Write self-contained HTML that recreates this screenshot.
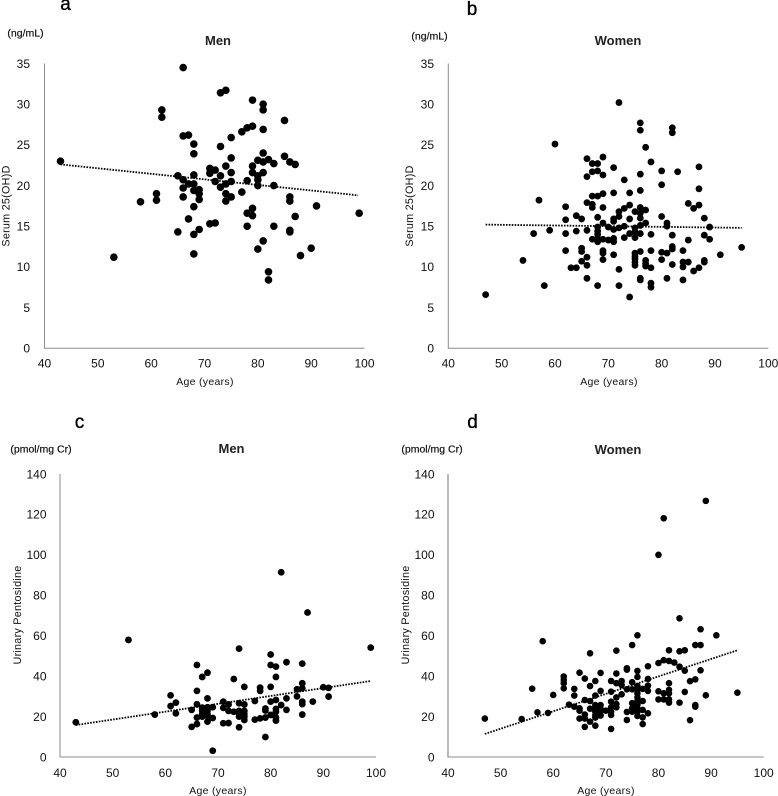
<!DOCTYPE html>
<html lang="en">
<head>
<meta charset="utf-8">
<title>Serum 25(OH)D and urinary pentosidine by age</title>
<style>
html,body{margin:0;padding:0;background:#fff;width:778px;height:796px;overflow:hidden}
svg{display:block;font-family:"Liberation Sans","Noto Sans CJK JP",sans-serif;fill:#111}
</style>
</head>
<body>
<svg id="figure" width="778" height="796" viewBox="0 0 778 796" xmlns="http://www.w3.org/2000/svg"></svg>
<script>
var xTicks = [40, 50, 60, 70, 80, 90, 100];
var vitdTicks = [0, 5, 10, 15, 20, 25, 30, 35];
var pentoTicks = [0, 20, 40, 60, 80, 100, 120, 140];

var agesA = [43,66,73,74,62,62,79,81,81,85,81,79,78,77,75,66,67,68,68,73,81,80,81,82,83,85,86,87,79,74,75,71,72,71,75,79,81,73,65,68,80,80,78,72,75,80,83,74,66,67,68,73,66,68,69,77,61,74,75,74,61,58,66,69,69,86,86,91,68,79,78,79,87,99,67,71,72,78,83,65,69,68,86,86,81,80,90,68,88,53,82,82];
var valuesA = [23.0,34.5,31.4,31.7,29.3,28.4,30.5,30.0,29.3,28.0,26.9,27.3,27.1,26.6,25.9,26.1,26.2,25.1,23.9,24.8,24.0,23.1,22.9,23.2,22.7,23.6,22.9,22.6,22.4,22.4,23.4,22.1,21.9,21.5,21.6,21.6,21.6,21.2,21.2,21.3,21.2,20.7,20.6,20.5,20.5,20.0,20.0,20.2,20.7,20.2,20.2,19.8,19.7,19.4,19.5,19.2,19.0,19.0,18.6,18.1,18.2,18.0,18.6,18.3,19.0,18.6,18.1,17.5,17.4,17.2,16.6,16.3,16.2,16.6,15.9,15.3,15.4,15.0,15.0,14.3,14.6,14.0,14.5,14.3,13.2,12.2,12.3,11.6,11.4,11.2,9.4,8.4];
var trendAgesA = [43, 98.8];
var trendValuesA = [22.6, 18.8];

var agesB = [72,76,76,82,82,60,77,78,69,66,67,68,71,87,80,83,67,68,69,76,66,73,80,87,76,71,74,69,67,68,57,62,66,67,67,69,74,73,72,76,77,75,76,85,87,86,64,65,62,68,72,71,71,74,80,88,76,77,81,69,76,73,70,72,71,75,81,89,68,68,66,59,64,56,62,68,74,75,76,78,82,88,67,68,69,68,70,71,71,73,75,85,89,62,65,65,69,69,71,82,82,78,76,75,75,80,81,84,91,95,66,54,69,65,75,75,75,80,77,77,77,66,82,84,84,85,88,88,87,63,64,78,72,86,66,76,76,81,84,78,78,58,68,72,74,47];
var valuesB = [30.2,27.7,26.8,27.1,26.5,25.1,24.7,22.9,23.5,23.3,22.7,22.7,22.2,22.3,21.8,21.7,21.7,21.8,21.3,21.4,21.1,20.7,20.1,19.6,19.4,19.1,19.1,19.0,18.7,18.7,18.2,17.4,17.9,17.7,17.3,17.3,17.6,17.2,16.8,17.3,17.0,16.8,16.6,17.8,17.6,17.2,16.3,15.9,15.8,16.1,16.2,15.9,15.6,15.9,16.2,16.0,16.0,15.4,15.4,15.4,15.1,15.0,14.9,14.8,14.6,14.8,15.0,14.9,14.9,14.4,14.5,14.5,14.4,14.1,14.1,14.0,14.1,14.3,14.1,14.0,13.9,13.9,13.4,13.5,13.4,13.1,13.3,13.5,13.1,13.6,13.6,13.3,13.4,12.0,12.3,11.9,12.0,11.7,11.5,12.5,12.2,12.0,11.9,11.7,11.3,11.8,11.7,12.0,11.5,12.4,11.2,10.8,10.9,10.7,11.0,10.6,10.2,10.9,10.8,10.4,10.1,10.2,10.3,10.6,10.0,10.6,10.8,10.6,9.9,9.9,9.9,9.9,9.7,9.5,8.6,8.6,8.4,8.6,8.4,8.0,7.5,7.7,7.7,7.7,6.3,6.6];
var trendAgesB = [47, 95];
var trendValuesB = [15.2, 14.8];

var agesC = [82,87,53,99,74,80,83,86,66,80,81,68,67,81,73,86,75,78,78,80,85,86,90,91,66,61,85,91,68,83,81,77,80,71,88,86,86,62,74,66,72,75,82,61,67,68,69,71,65,67,68,79,79,81,83,72,73,74,75,81,62,67,68,74,75,80,58,86,66,67,68,69,74,75,79,78,77,75,81,81,68,66,71,72,43,65,74,79,69];
var valuesC = [91.4,71.5,57.9,54.1,53.6,50.7,46.9,46.2,45.5,45.5,44.7,41.7,39.6,39.6,38.6,36.5,34.7,34.3,32.7,34.7,33.5,34.0,34.5,34.2,32.7,30.5,30.0,29.9,29.0,29.0,28.2,27.7,27.4,27.4,27.4,27.4,26.2,26.9,26.6,26.1,26.0,26.0,25.7,25.2,24.4,24.6,24.6,24.3,23.3,23.0,23.0,24.0,23.0,23.8,23.3,22.8,22.4,22.8,22.8,22.4,21.6,21.3,21.3,21.6,21.3,20.8,21.0,21.0,19.5,20.0,20.3,19.3,20.0,20.0,19.5,19.1,18.5,18.3,19.5,18.0,17.5,16.3,16.7,16.8,17.2,14.9,14.7,9.9,3.1];
var trendAgesC = [43, 99];
var trendValuesC = [15.8, 37.6];

var agesD = [89,81,80,84,88,91,76,58,75,87,88,67,72,82,84,85,80,81,82,83,78,84,85,88,74,74,76,65,69,72,62,76,62,66,78,87,62,68,71,73,75,86,82,72,73,67,78,76,56,62,64,74,75,77,76,69,71,78,80,82,85,95,73,76,81,82,60,64,68,89,72,76,80,81,82,66,67,71,76,77,75,82,84,63,64,68,69,72,87,87,76,65,67,68,69,71,72,75,76,65,68,69,70,71,74,75,76,77,57,59,78,66,68,69,71,76,77,47,54,65,66,68,67,74,86,77,68,66,71];
var valuesD = [126.7,118.1,100,68.6,63.2,60.2,60.2,57.3,55.4,55.4,55.4,51.3,52.6,52.8,52.3,52.8,46.5,47.9,47.5,46.7,44.9,44.7,42.7,42.9,43.9,43.2,42.6,41.7,41.6,41.3,39.8,39.6,38.1,38.8,38.6,38.4,36.5,37.6,37.6,37.6,37.0,37.5,36.5,36.5,35.6,35.1,35.3,35.1,33.8,34.0,33.7,33.5,33.5,33.7,33.5,32.7,32.3,32.7,32.5,33.2,32.2,31.8,31.0,31.5,31.5,31.5,30.7,30.4,30.4,30.5,29.5,29.5,28.5,28.5,28.5,28.2,27.7,27.4,27.7,27.7,26.6,26.9,26.9,25.9,24.9,25.7,25.7,26.2,25.7,24.9,25.9,24.1,23.9,24.1,23.8,24.6,24.6,24.1,24.1,22.9,22.4,22.4,22.9,22.4,22.3,22.4,22.3,23.3,22.1,21.8,21.6,21.0,20.8,20.5,20.8,20.3,19.6,19.0,18.8,19.0,19.0,19.5,17.5,18.3,18.2,16.3,15.5,14.9,13.9];
var trendAgesD = [47, 95];
var trendValuesD = [11.4, 52.8];

var NS = 'http://www.w3.org/2000/svg';
var svg = document.getElementById('figure');

function make(tag, attrs, text) {
  var el = document.createElementNS(NS, tag);
  for (var k in attrs) el.setAttribute(k, attrs[k]);
  if (text !== undefined) el.textContent = text;
  return el;
}

function addLabel(parent, name, text, attrs) {
  var el = make('text', attrs, text);
  
  
  parent.appendChild(el);
  return el;
}

function drawPanel(p) {
  var g = make('g', {});
  
  
  svg.appendChild(g);

  var xMin = xTicks[0], xMax = xTicks[xTicks.length - 1];
  var yMax = p.yTicks[p.yTicks.length - 1];
  function sx(v) { return p.left + (v - xMin) / (xMax - xMin) * (p.right - p.left); }
  function sy(v) { return p.bottom - v / yMax * (p.bottom - p.top); }

  var yAxis = make('line', { x1: p.left, x2: p.left, y1: p.top, y2: p.bottom, stroke: p.yAxisColor, 'stroke-width': p.yAxisWidth });
  
  
  g.appendChild(yAxis);

  var xAxis = make('line', { x1: p.left - 0.5, x2: p.right, y1: p.bottom, y2: p.bottom, stroke: '#8c8c8c', 'stroke-width': 1 });
  
  
  g.appendChild(xAxis);

  p.yTicks.forEach(function (t) {
    addLabel(g, 'y-tick-label', String(t), { x: p.yTickX, y: sy(t) + 4.3, 'text-anchor': 'end', 'font-size': 12, fill: '#111' });
  });
  xTicks.forEach(function (t) {
    addLabel(g, 'x-tick-label', String(t), { x: sx(t), y: p.xTickY, 'text-anchor': 'middle', 'font-size': 12, fill: '#111' });
  });

  p.ages.forEach(function (age, i) {
    var dot = make('circle', { cx: sx(age), cy: sy(p.values[i]), r: p.radius, fill: '#000' });
    
    
    g.appendChild(dot);
  });

  var trend = make('line', {
    x1: sx(p.trendAges[0]), y1: sy(p.trendValues[0]),
    x2: sx(p.trendAges[1]), y2: sy(p.trendValues[1]),
    stroke: '#000', 'stroke-width': 1.8, 'stroke-dasharray': '1.6 1.3'
  });
  
  
  g.appendChild(trend);

  addLabel(g, 'panel-letter', p.letter, { x: p.letterX, y: p.letterY, 'text-anchor': 'middle', 'font-size': 19, fill: '#000', stroke: '#000', 'stroke-width': 0.35 });
  addLabel(g, 'unit-label', p.unit, { x: p.unitX, y: p.unitY, 'text-anchor': 'middle', 'font-size': 10.5, fill: '#111', stroke: '#111', 'stroke-width': 0.2 });
  addLabel(g, 'chart-title', p.title, { x: p.titleX, y: p.titleY, 'text-anchor': 'middle', 'font-size': 13, 'font-weight': 'bold', fill: '#222' });
  addLabel(g, 'x-axis-title', 'Age (years)', { x: p.xTitleX, y: p.xTitleY, 'text-anchor': 'middle', 'font-size': 10.5, 'letter-spacing': '0.3', fill: '#111' });
  addLabel(g, 'y-axis-title', p.yTitle, {
    x: 0, y: 0, 'text-anchor': 'middle', 'font-size': 10.8, 'letter-spacing': '0.25', fill: '#111',
    transform: 'translate(' + p.yTitleX + ',' + p.yTitleY + ') rotate(-90)'
  });
}

drawPanel({
  letter: 'a', title: 'Men', unit: '(ng/mL)', yTitle: 'Serum 25(OH)D', yTicks: vitdTicks,
  ages: agesA, values: valuesA, trendAges: trendAgesA, trendValues: trendValuesA,
  left: 44.5, right: 364.5, top: 63.5, bottom: 348.3, radius: 3.8,
  yAxisColor: '#8c8c8c', yAxisWidth: 1,
  yTickX: 30, xTickY: 367.5, letterX: 65.5, letterY: 10,
  unitX: 25.5, unitY: 36.5, titleX: 218, titleY: 45,
  xTitleX: 205, xTitleY: 385, yTitleX: 9.5, yTitleY: 206
});
drawPanel({
  letter: 'b', title: 'Women', unit: '(ng/mL)', yTitle: 'Serum 25(OH)D', yTicks: vitdTicks,
  ages: agesB, values: valuesB, trendAges: trendAgesB, trendValues: trendValuesB,
  left: 448.3, right: 768.3, top: 63.5, bottom: 348.3, radius: 3.4,
  yAxisColor: '#8c8c8c', yAxisWidth: 1,
  yTickX: 434, xTickY: 367.5, letterX: 472, letterY: 15,
  unitX: 429.5, unitY: 39.5, titleX: 618, titleY: 45,
  xTitleX: 609, xTitleY: 385, yTitleX: 413, yTitleY: 206
});
drawPanel({
  letter: 'c', title: 'Men', unit: '(pmol/mg Cr)', yTitle: 'Urinary Pentosidine', yTicks: pentoTicks,
  ages: agesC, values: valuesC, trendAges: trendAgesC, trendValues: trendValuesC,
  left: 60, right: 376, top: 474, bottom: 757, radius: 3.4,
  yAxisColor: '#8c8c8c', yAxisWidth: 1,
  yTickX: 46.5, xTickY: 777, letterX: 79.5, letterY: 428,
  unitX: 41, unitY: 452.5, titleX: 231.5, titleY: 453,
  xTitleX: 218, xTitleY: 794, yTitleX: 21, yTitleY: 615
});
drawPanel({
  letter: 'd', title: 'Women', unit: '(pmol/mg Cr)', yTitle: 'Urinary Pentosidine', yTicks: pentoTicks,
  ages: agesD, values: valuesD, trendAges: trendAgesD, trendValues: trendValuesD,
  left: 448, right: 763.7, top: 474, bottom: 757, radius: 3.3,
  yAxisColor: '#b8b8b8', yAxisWidth: 2,
  yTickX: 434.5, xTickY: 777, letterX: 472.5, letterY: 428,
  unitX: 432, unitY: 452.5, titleX: 618, titleY: 454,
  xTitleX: 606, xTitleY: 794, yTitleX: 409, yTitleY: 615
});
</script>
</body>
</html>
